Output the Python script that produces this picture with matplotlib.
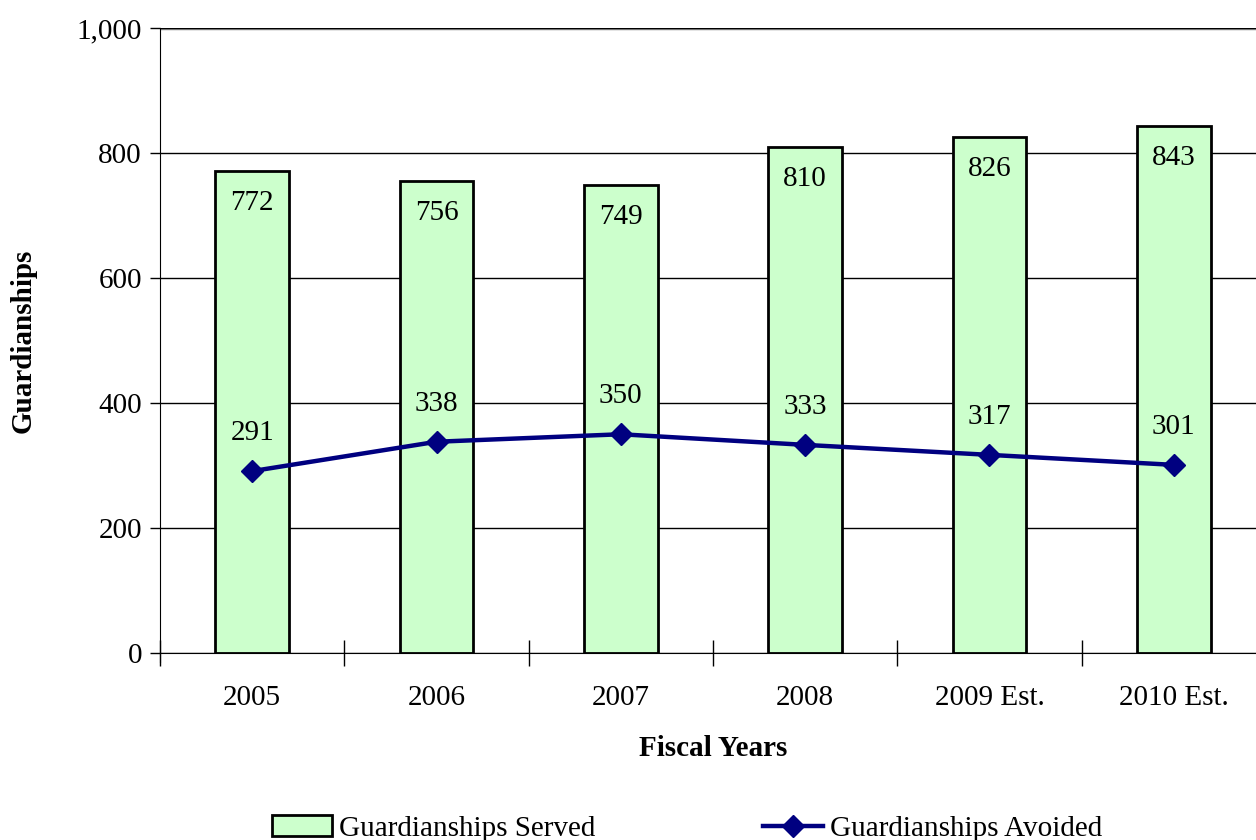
import matplotlib.pyplot as plt
import numpy as np

# data
years = ['2005', '2006', '2007', '2008', '2009 Est.', '2010 Est.']
served = [772, 756, 749, 810, 826, 843]
avoided = [291, 338, 350, 333, 317, 301]

plt.rcParams['font.family'] = ['Liberation Serif', 'DejaVu Serif']
plt.rcParams['font.size'] = 21

fig = plt.figure(figsize=(12.56, 8.4), dpi=100)
ax = fig.add_axes([160 / 1256, 1 - 653 / 840, 1106 / 1256, 625 / 840])

x = np.arange(len(years))
bars = ax.bar(x, served, width=0.4, color='#CCFFCC', edgecolor='black',
              linewidth=2, zorder=2, label='Guardianships Served')
line, = ax.plot(x, avoided, color='#000080', lw=3.2, marker='D', markersize=11,
                zorder=3, label='Guardianships Avoided')

for xi, v in zip(x, served):
    ax.annotate(str(v), (xi, v), xytext=(0, -32), textcoords='offset pixels',
                ha='center', va='center', zorder=4)
for xi, v in zip(x, avoided):
    ax.annotate(str(v), (xi, v), xytext=(0, 38), textcoords='offset pixels',
                ha='center', va='center', zorder=4)

ax.set_xlim(-0.5, 5.5)
ax.set_ylim(0, 1000)
ax.set_yticks(range(0, 1001, 200))
ax.set_yticklabels(['0', '200', '400', '600', '800', '1,000'])
ax.set_xticks(x)
ax.set_xticklabels(years)
ax.set_xticks(np.arange(-0.5, 6, 1), minor=True)
ax.tick_params(axis='x', which='major', length=0, pad=23)
ax.tick_params(axis='x', which='minor', direction='inout', length=19, width=1)
ax.tick_params(axis='y', direction='out', length=7, width=1, pad=6)

ax.grid(axis='y', color='black', lw=1, zorder=0)
ax.axhline(1000, color='#909090', lw=2.5, zorder=1)
for s in ['top', 'right']:
    ax.spines[s].set_visible(False)
ax.spines['left'].set_bounds(-14, 1000)
ax.spines['bottom'].set_zorder(5)

ax.set_xlabel('Fiscal Years', fontweight='bold')
ax.set_ylabel('Guardianships', fontweight='bold')
ax.xaxis.set_label_coords(0.5, -0.132)
ax.yaxis.set_label_coords(-0.112, 0.5)

fig.legend(handles=[bars, line], loc='center', bbox_to_anchor=(0.547, 0.0135),
           ncol=2, frameon=False, columnspacing=5.75, handlelength=2.06,
           handletextpad=0.24, fontsize=21)

fig.savefig('out.png', dpi=100)
